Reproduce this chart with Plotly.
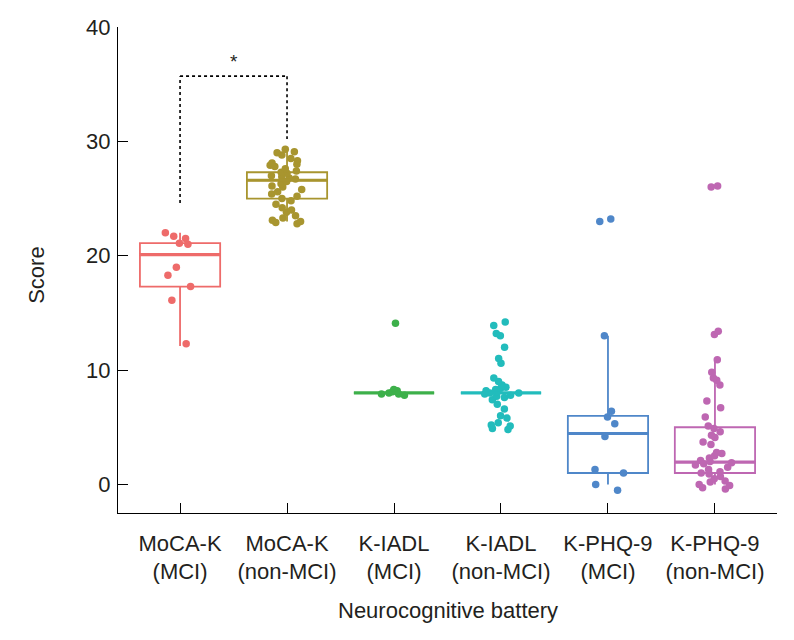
import plotly.graph_objects as go

# ---- data ----
categories = ["MoCA-K<br>(MCI)", "MoCA-K<br>(non-MCI)", "K-IADL<br>(MCI)",
              "K-IADL<br>(non-MCI)", "K-PHQ-9<br>(MCI)", "K-PHQ-9<br>(non-MCI)"]

moca_mci = [22.0, 21.7, 21.5, 21.1, 21.0, 19.0, 18.3, 17.3, 16.1, 12.3]
moca_non = [29.3, 29.1, 29.0, 28.8, 28.5, 28.3, 28.1, 28.0, 27.9, 27.8, 27.6, 27.4,
            27.3, 27.2, 27.0, 26.9, 26.8, 26.7, 26.5, 26.3, 26.1, 26.0, 25.8, 25.6,
            25.4, 25.2, 25.0, 24.8, 24.5, 24.2, 24.0, 23.8, 23.5, 23.3, 23.1, 23.0,
            22.9, 22.8]
iadl_mci = [14.1, 8.3, 8.1, 8.0, 7.9, 7.8, 8.2, 7.9]
iadl_non = [14.2, 13.9, 13.2, 13.0, 12.0, 11.0, 10.6, 9.3, 9.0, 8.7, 8.5, 8.4, 8.3,
            8.2, 8.1, 8.0, 8.0, 7.9, 7.8, 7.7, 7.6, 7.4, 7.0, 6.6, 6.0, 5.8, 5.4,
            5.2, 5.1, 4.9, 4.8]
phq_mci = [23.2, 23.0, 13.0, 6.4, 5.9, 5.3, 4.2, 1.3, 1.0, 0.0, -0.5]
phq_non = [26.1, 26.0, 13.4, 13.1, 10.9, 9.8, 9.3, 9.1, 8.7, 7.3, 6.7, 5.9, 5.1,
           4.9, 4.6, 4.3, 4.1, 3.7, 3.5, 2.8, 2.7, 2.5, 2.3, 2.1, 2.0, 1.9, 1.8,
           1.7, 1.5, 1.3, 1.1, 1.0, 0.9, 0.7, 0.5, 0.3, 0.2, 0.0, -0.1, -0.3, -0.4]

box_q1 = [17.3, 25.0, 8.0, 8.0, 1.0, 1.0]
box_median = [20.1, 26.6, 8.0, 8.0, 4.45, 1.95]
box_q3 = [21.1, 27.3, 8.0, 8.0, 6.0, 5.0]
box_lower = [12.1, 23.0, 8.0, 8.0, 0.0, 0.0]
box_upper = [22.0, 29.2, 8.0, 8.0, 13.0, 11.0]

y_ticks = [0, 10, 20, 30, 40]

# ---- styling ----
series = [moca_mci, moca_non, iadl_mci, iadl_non, phq_mci, phq_non]
colors = ["#EE6B6A", "#A8952F", "#3DB04A", "#22BCBC", "#4F87C9", "#BE67B2"]
BOX_W = 0.75
FONT = "Liberation Sans, Arial, sans-serif"
TXT = "#231F20"

fig = go.Figure()

for i, vals in enumerate(series):
    fig.add_trace(go.Box(
        x=[i], q1=[box_q1[i]], median=[box_median[i]], q3=[box_q3[i]],
        lowerfence=[box_lower[i]], upperfence=[box_upper[i]],
        width=BOX_W, whiskerwidth=0, boxpoints=False,
        fillcolor="white", line=dict(color=colors[i], width=1.8),
        showlegend=False, hoverinfo="skip"))

for i, vals in enumerate(series):
    fig.add_trace(go.Box(
        y=vals, x0=i, width=BOX_W, boxpoints="all", jitter=0.5, pointpos=0,
        fillcolor="rgba(0,0,0,0)", line=dict(color="rgba(0,0,0,0)", width=0),
        marker=dict(color=colors[i], size=7.5),
        showlegend=False, hoverinfo="y"))

shapes = []
for i, m in enumerate(box_median):
    shapes.append(dict(type="line", xref="x", yref="y",
                       x0=i - BOX_W / 2, x1=i + BOX_W / 2, y0=m, y1=m,
                       line=dict(color=colors[i], width=3.2), layer="above"))

# significance bracket
dot = dict(color="black", width=1.6, dash="dot")
shapes += [
    dict(type="line", xref="x", yref="y", x0=0, x1=0, y0=24.6, y1=35.7, line=dot),
    dict(type="line", xref="x", yref="y", x0=0, x1=1, y0=35.7, y1=35.7, line=dot),
    dict(type="line", xref="x", yref="y", x0=1, x1=1, y0=35.7, y1=30.2, line=dot),
]

annotations = [
    dict(x=0.5, y=37.0, xref="x", yref="y", text="*", showarrow=False,
         font=dict(size=19, color=TXT)),
    dict(x=-0.123, y=0.49, xref="paper", yref="paper", text="Score", textangle=-90,
         showarrow=False, xanchor="center", yanchor="middle",
         font=dict(size=22, color=TXT)),
    dict(x=0.5, y=-0.2, xref="paper", yref="paper", text="Neurocognitive battery",
         showarrow=False, xanchor="center", yanchor="middle",
         font=dict(size=22, color=TXT)),
]

fig.update_layout(
    width=794, height=640,
    margin=dict(l=110, r=25, t=19, b=135),
    paper_bgcolor="white", plot_bgcolor="white",
    boxmode="overlay",
    font=dict(family=FONT, size=22, color=TXT),
    shapes=shapes,
    annotations=annotations,
    xaxis=dict(range=[-0.58, 5.58], tickmode="array", tickvals=list(range(6)),
               ticktext=categories, showline=True, linecolor="black", linewidth=1.2,
               ticks="inside", ticklen=10, tickwidth=1.2, tickcolor="black",
               ticklabelstandoff=10,
               showgrid=False, zeroline=False, automargin=False),
    yaxis=dict(range=[-2.5, 40], tickvals=y_ticks, showline=True, linecolor="black",
               linewidth=1.2, ticks="inside", ticklen=10, tickwidth=1.2,
               tickcolor="black", showgrid=False, zeroline=False, automargin=False,
               ticklabelstandoff=2),
)

fig.write_html("out.html")
